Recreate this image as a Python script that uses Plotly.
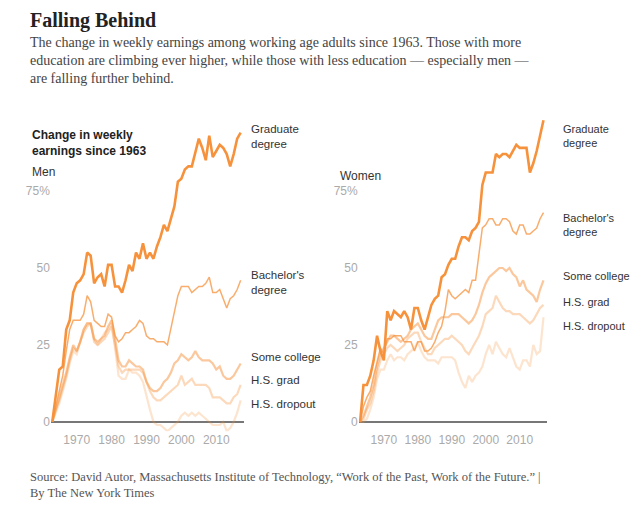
import plotly.graph_objects as go
from plotly.subplots import make_subplots

years = list(range(1963, 2018))
series_names = ["Graduate degree", "Bachelor's degree", "Some college", "H.S. grad", "H.S. dropout"]

men_grad = [0,8,17,18,30,33,42,45,46,48,55,54,45,47,48,44,51,51,44,44,42,46,51,49,55,53,58,53,55,53,57,60,64,62,66,70,78,79,82,83,83,88,92,89,85,93,86,88,90,89,87,83,87,92,94]
men_bach = [0,5,10,15,23,30,33,33,33,35,41,39,33,32,31,31,35,34,28,26,27,29,29,30,31,33,32,28,27,27,26,26,26,25,30,36,41,44,44,44,42,43,44,44,45,47,42,42,43,40,37,40,41,43,46]
men_some = [0,4,8,12,16,21,25,23,26,30,32,32,27,26,27,28,31,33,27,20,18,18,20,19,18,18,17,13,11,10,10,11,13,14,16,19,20,22,21,20,21,23,21,20,20,20,19,17,18,15,14,14,15,17,19]
men_hs = [0,4,7,11,15,20,24,23,26,29,31,32,26,25,26,27,29,31,25,18,16,17,17,17,17,17,16,13,10,8,7,7,8,9,10,11,12,15,12,13,14,12,12,12,12,11,8,8,8,7,6,6,8,9,12]
men_drop = [0,3,6,10,14,19,23,22,26,30,32,32,27,25,27,29,30,32,24,15,14,14,17,16,16,15,13,8,4,0,-1,-1,-2,-3,-2,-1,0,2,3,2,3,2,3,2,1,0,-1,-1,-1,0,-3,-2,0,3,7]

women_grad = [0,12,12,15,20,28,23,20,36,33,36,35,34,36,34,30,37,37,33,30,34,38,40,41,47,48,51,53,53,57,60,60,59,62,63,65,77,81,81,81,87,86,87,87,86,88,90,89,89,89,81,84,88,93,98]
women_bach = [0,5,8,10,15,20,24,22,27,27,28,28,28,26,26,26,23,26,26,23,23,24,26,29,31,36,43,41,40,41,42,43,42,46,46,55,63,64,66,66,64,64,66,66,65,62,61,64,64,61,61,62,63,66,68]
women_some = [0,2,5,8,12,18,22,24,26,28,28,27,26,27,28,30,31,32,30,28,27,27,30,33,34,34,34,35,35,35,34,33,32,33,35,38,42,45,47,48,49,50,50,49,50,48,47,44,46,43,42,41,39,43,46]
women_hs = [0,1,4,6,10,16,20,22,24,25,24,23,24,25,27,28,29,29,26,24,22,22,24,25,26,27,27,28,27,26,25,23,22,24,26,28,31,35,36,37,41,39,37,36,36,35,35,35,34,33,32,33,35,37,38]
women_drop = [0,0,1,4,8,14,17,17,20,22,20,21,21,20,22,23,24,26,23,21,20,20,20,19,21,21,21,21,20,16,13,11,15,13,15,16,18,22,25,22,26,24,22,21,24,21,18,17,20,20,18,25,22,23,34]

x_ticks = [1970, 1980, 1990, 2000, 2010]
y_ticks = [0, 25, 50, 75]
y_ticklabels = ["0", "25", "50", "75%"]

styles = [("rgba(247,146,60,1)", 2.6), ("rgba(247,146,60,0.75)", 1.5),
          ("rgba(247,146,60,0.5)", 2.2), ("rgba(247,146,60,0.35)", 2.2),
          ("rgba(247,146,60,0.25)", 2.2)]

fig = make_subplots(rows=1, cols=2)
men = [men_grad, men_bach, men_some, men_hs, men_drop]
women = [women_grad, women_bach, women_some, women_hs, women_drop]
for col, data in ((1, men), (2, women)):
    for i in reversed(range(5)):
        c, w = styles[i]
        fig.add_trace(go.Scatter(x=years, y=data[i], mode="lines", name=series_names[i],
                                 line=dict(color=c, width=w), showlegend=False, hoverinfo="skip"),
                      row=1, col=col)

font = "Liberation Sans, Arial, sans-serif"
xax = dict(range=[1962.6, 2018], tickvals=x_ticks, showgrid=False, zeroline=False,
           showline=False, ticks="", tickfont=dict(family=font, size=12, color="#aaaaaa"))
yax = dict(range=[-3, 100], tickvals=y_ticks, ticktext=y_ticklabels, showgrid=False,
           zeroline=True, zerolinecolor="#777777", zerolinewidth=2,
           tickfont=dict(family=font, size=12, color="#aaaaaa"), ticks="", domain=[0.194, 0.798])
fig.update_layout(
    width=640, height=525, margin=dict(l=0, r=0, t=0, b=0),
    plot_bgcolor="white", paper_bgcolor="white",
    xaxis=dict(xax, domain=[0.067, 0.369]), xaxis2=dict(xax, domain=[0.548, 0.842]),
    yaxis=yax, yaxis2=dict(yax),
)

def note(text, x, y, size=12, color="#333333", bold=False, fam=font, yanchor="middle"):
    fig.add_annotation(text=(f"<b>{text}</b>" if bold else text), x=x / 640, y=1 - (y - 7) / 525,
                       xref="paper", yref="paper", xanchor="left", yanchor=yanchor, showarrow=False,
                       align="left", font=dict(family=fam, size=size, color=color))

note("Falling Behind", 20, 19, size=20, color="#222222", bold=True, fam="Liberation Serif, serif")
note("The change in weekly earnings among working age adults since 1963. Those with more<br>"
     "education are climbing ever higher, while those with less education — especially men —<br>"
     "are falling further behind.", 20, 60, size=14, color="#444444", fam="Liberation Serif, serif")
note("Change in weekly<br>earnings since 1963", 22, 142, size=12, color="#222222", bold=True)
note("Men", 22, 171)
note("Women", 330, 175)
for y, t in [(135, "Graduate<br>degree"), (281, "Bachelor's<br>degree"), (356, "Some college"),
             (379, "H.S. grad"), (403, "H.S. dropout")]:
    note(t, 241, y, size=11.5)
for y, t in [(135, "Graduate<br>degree"), (224, "Bachelor's<br>degree"), (275, "Some college"),
             (301, "H.S. grad"), (325, "H.S. dropout")]:
    note(t, 553, y, size=11)
note("Source: David Autor, Massachusetts Institute of Technology, “Work of the Past, Work of the Future.” |<br>"
     "By The New York Times", 20, 484, size=12.5, color="#555555", fam="Liberation Serif, serif")

fig.write_html("out.html")
